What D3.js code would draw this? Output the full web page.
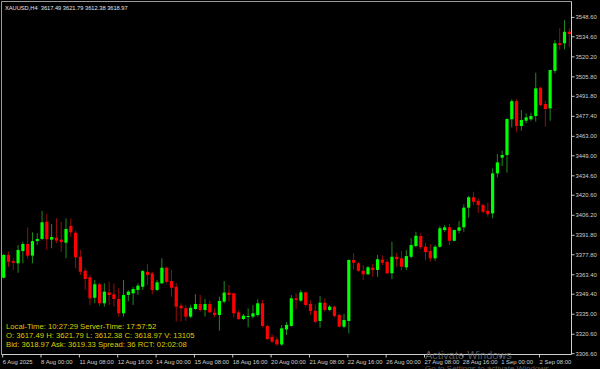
<!doctype html>
<html>
<head>
<meta charset="UTF-8">
<script src="https://cdn.jsdelivr.net/npm/d3@7"></script>
<style>
	body { margin: 0; background: #000; overflow: hidden; }
	svg { display: block; font-family: "Liberation Sans", Arial, sans-serif; }
</style>
</head>
<body>
	<svg id="chart" width="600" height="369"></svg>

	<script>
		// XAUUSD H4 candles, 6 Aug 16:00 .. 3 Sep
		const opens = [
			3360.9, 3377.3, 3372.9, 3371.3, 3380.1, 3385.2, 3376.8, 3387.3, 3388.8, 3401.2,
			3388.3, 3389.7, 3388.3, 3386.1, 3398.3, 3393.3, 3376.0, 3365.9, 3361.2, 3346.5,
			3356.2, 3342.5, 3350.4, 3349.0, 3345.6, 3335.3, 3348.5, 3349.7, 3352.1, 3354.4,
			3365.2, 3364.1, 3352.1, 3356.9, 3368.1, 3358.5, 3354.4, 3340.8, 3338.9, 3332.9,
			3338.4, 3342.0, 3337.7, 3342.0, 3335.8, 3334.1, 3343.7, 3350.2, 3349.7, 3336.0,
			3331.2, 3332.9, 3332.9, 3334.1, 3342.5, 3326.2, 3318.3, 3316.4, 3312.9, 3323.7,
			3326.2, 3346.1, 3344.4, 3350.4, 3342.0, 3337.2, 3329.8, 3342.9, 3337.7, 3340.1,
			3334.1, 3325.7, 3329.8, 3373.7, 3371.3, 3365.9, 3363.4, 3368.1, 3366.5, 3373.9,
			3372.4, 3364.1, 3376.0, 3374.9, 3368.4, 3376.0, 3383.7, 3390.9, 3383.2, 3380.1,
			3374.9, 3383.2, 3395.2, 3397.2, 3387.5, 3394.7, 3397.2, 3411.3, 3418.8, 3416.3,
			3413.2, 3409.1, 3407.2, 3436.0, 3447.3, 3449.2, 3474.9, 3488.0, 3470.1, 3473.9,
			3474.9, 3477.3, 3497.6, 3485.9, 3482.8, 3509.8, 3529.6, 3529.6, 3537.9
		];
		const highs = [
			3378.0, 3379.6, 3374.9, 3384.4, 3386.8, 3397.2, 3393.6, 3392.9, 3408.9, 3406.8,
			3399.6, 3403.6, 3401.2, 3403.6, 3403.6, 3394.7, 3380.9, 3367.7, 3362.9, 3359.3,
			3357.1, 3356.9, 3358.0, 3356.9, 3353.3, 3359.3, 3352.1, 3354.4, 3356.9, 3366.5,
			3370.8, 3365.2, 3359.3, 3374.9, 3368.8, 3366.5, 3356.9, 3342.5, 3341.3, 3341.3,
			3349.0, 3348.5, 3345.6, 3344.4, 3338.9, 3347.2, 3358.5, 3355.7, 3350.2, 3337.2,
			3334.8, 3338.9, 3341.3, 3345.4, 3344.9, 3326.9, 3320.4, 3318.3, 3326.9, 3329.0,
			3348.5, 3349.7, 3352.1, 3350.9, 3344.9, 3341.8, 3347.7, 3346.1, 3341.3, 3340.8,
			3335.3, 3334.8, 3374.0, 3378.5, 3372.4, 3370.0, 3369.3, 3370.8, 3377.3, 3376.9,
			3374.2, 3386.8, 3378.9, 3380.1, 3380.9, 3389.3, 3394.0, 3392.9, 3386.1, 3385.2,
			3384.4, 3398.1, 3398.8, 3399.6, 3395.7, 3401.7, 3413.7, 3419.7, 3422.8, 3418.0,
			3414.4, 3414.9, 3439.6, 3449.9, 3452.3, 3475.6, 3489.3, 3489.3, 3481.6, 3479.2,
			3479.6, 3508.4, 3498.3, 3488.3, 3510.4, 3532.0, 3540.4, 3546.3, 3540.4
		];
		const lows = [
			3360.3, 3368.8, 3366.5, 3364.5, 3371.3, 3374.9, 3371.3, 3384.5, 3388.1, 3380.9,
			3382.1, 3385.7, 3379.6, 3374.9, 3390.4, 3367.7, 3362.9, 3352.1, 3341.3, 3342.5,
			3340.6, 3340.1, 3341.3, 3340.1, 3332.9, 3332.9, 3344.0, 3341.3, 3348.5, 3352.1,
			3355.7, 3349.0, 3351.3, 3356.4, 3356.9, 3347.2, 3329.3, 3329.3, 3329.8, 3331.7,
			3337.7, 3336.5, 3332.9, 3335.8, 3332.4, 3322.8, 3342.5, 3343.7, 3332.4, 3330.5,
			3330.5, 3325.2, 3331.7, 3332.9, 3325.2, 3316.1, 3313.9, 3311.8, 3311.8, 3319.7,
			3325.7, 3338.4, 3343.7, 3340.1, 3334.1, 3328.1, 3324.9, 3336.5, 3337.0, 3332.4,
			3325.2, 3324.5, 3320.9, 3367.0, 3365.2, 3359.3, 3362.8, 3361.6, 3361.6, 3370.0,
			3363.6, 3359.8, 3368.8, 3366.5, 3366.5, 3374.9, 3382.8, 3381.4, 3373.7, 3372.4,
			3373.2, 3382.5, 3394.0, 3384.4, 3387.1, 3392.9, 3394.0, 3404.1, 3413.2, 3407.5,
			3407.3, 3404.8, 3403.6, 3433.2, 3441.3, 3436.5, 3469.1, 3465.9, 3466.7, 3472.0,
			3473.9, 3473.2, 3484.5, 3469.6, 3473.9, 3508.0, 3524.8, 3525.2, 3527.1
		];
		const closes = [
			3377.3, 3372.4, 3371.7, 3380.9, 3385.2, 3376.8, 3387.3, 3388.8, 3400.8, 3388.6,
			3390.2, 3387.6, 3386.6, 3396.0, 3393.6, 3375.6, 3365.2, 3360.0, 3346.1, 3356.2,
			3342.5, 3350.9, 3348.5, 3345.6, 3335.3, 3348.5, 3350.9, 3352.8, 3355.2, 3365.7,
			3362.9, 3352.1, 3357.6, 3368.1, 3358.0, 3353.7, 3340.1, 3338.9, 3332.9, 3339.3,
			3342.0, 3337.7, 3342.0, 3336.0, 3334.1, 3344.2, 3350.2, 3348.5, 3335.3, 3331.2,
			3333.6, 3333.4, 3335.3, 3342.5, 3326.2, 3316.8, 3314.9, 3313.0, 3324.5, 3326.9,
			3346.1, 3344.9, 3350.4, 3341.3, 3337.0, 3329.3, 3342.9, 3337.7, 3340.1, 3333.4,
			3325.7, 3330.5, 3373.7, 3371.7, 3365.9, 3363.4, 3368.4, 3366.5, 3374.2, 3371.7,
			3364.1, 3376.0, 3374.2, 3368.8, 3376.5, 3384.4, 3391.1, 3382.8, 3379.4, 3374.9,
			3383.2, 3396.5, 3397.2, 3387.5, 3395.2, 3397.2, 3411.3, 3418.8, 3415.6, 3413.2,
			3408.4, 3406.8, 3436.0, 3443.9, 3449.2, 3475.1, 3488.0, 3470.1, 3474.4, 3476.3,
			3477.3, 3497.2, 3485.2, 3482.3, 3510.4, 3529.6, 3528.4, 3537.9, 3536.3
		];

		// one time label every 8 bars
		const xTickLabels = [
			"6 Aug 2025", "8 Aug 00:00", "11 Aug 08:00", "12 Aug 16:00", "14 Aug 00:00",
			"15 Aug 08:00", "18 Aug 16:00", "20 Aug 00:00", "21 Aug 08:00", "22 Aug 16:00",
			"26 Aug 00:00", "27 Aug 08:00", "28 Aug 16:00", "1 Sep 00:00", "2 Sep 08:00"
		];
		const yTickValues = [
			3548.60, 3534.60, 3520.20, 3505.80, 3491.80, 3477.40, 3463.00, 3449.00, 3434.60,
			3420.60, 3406.20, 3391.80, 3377.80, 3363.40, 3349.40, 3335.00, 3320.60, 3306.60
		];
		const headerText = "XAUUSD,H4  3617.49 3621.79 3612.38 3618.97";
		const infoLines = [
			"Local-Time: 10:27:29 Server-Time: 17:57:52",
			"O: 3617.49 H: 3621.79 L: 3612.38 C: 3618.97 V: 13105",
			"Bid: 3618.97 Ask: 3619.33 Spread: 36 RCT: 02:02:08"
		];

		(function(){

			let svg = d3.select("#chart");
			let plot = {left: 1.5, top: 1.5, right: 571.5, bottom: 354.5};
			let barsPerLabel = 8;

			let candles = opens.map(function(o, i){
				return {i: i, o: o, h: highs[i], l: lows[i], c: closes[i]};
			});

			let xSca = d3.scaleBand()
						 .domain(d3.range(candles.length))
						 .range([1.3, 571.7]);

			let ySca = d3.scaleLinear()
						 .domain([3306.6, 3548.6])
						 .range([353.2, 16.9]);

			let cx = function(i){ return xSca(i) + xSca.bandwidth() / 2; };

			svg.append("rect")
				.attr("width", 600)
				.attr("height", 369)
				.attr("fill", "#000");

			// frame
			svg.append("path")
				.attr("d", "M" + plot.right + "," + plot.top + "H" + plot.left + "V" + plot.bottom)
				.attr("fill", "none")
				.attr("stroke", "#9a9a9a");
			svg.append("path")
				.attr("d", "M" + plot.right + "," + plot.top + "V" + plot.bottom + "H" + plot.left)
				.attr("fill", "none")
				.attr("stroke", "#d0d0d0");

			// wicks
			svg.append("g").selectAll("line")
				.data(candles)
				.enter().append("line")
				.attr("x1", function(d){ return cx(d.i); })
				.attr("x2", function(d){ return cx(d.i); })
				.attr("y1", function(d){ return ySca(d.h); })
				.attr("y2", function(d){ return ySca(d.l); })
				.attr("stroke", function(d){ return d.c >= d.o ? "#1f8a1f" : "#9a0c0c"; })
				.attr("stroke-width", 1);

			// bodies
			svg.append("g").selectAll("rect")
				.data(candles)
				.enter().append("rect")
				.attr("x", function(d){ return cx(d.i) - 1.6; })
				.attr("width", 3.2)
				.attr("y", function(d){ return ySca(Math.max(d.o, d.c)); })
				.attr("height", function(d){ return Math.max(1, Math.abs(ySca(d.o) - ySca(d.c))); })
				.attr("fill", function(d){ return d.c >= d.o ? "#00ff00" : "#ff0000"; });

			// price axis
			let yAxis = d3.axisRight(ySca)
						  .tickValues(yTickValues)
						  .tickSize(3)
						  .tickPadding(1)
						  .tickFormat(d3.format(".2f"));
			let yG = svg.append("g")
				.attr("transform", "translate(" + plot.right + ",0)")
				.call(yAxis);
			yG.select(".domain").remove();
			yG.selectAll("line").attr("stroke", "#c8c8c8");
			yG.selectAll("text")
				.attr("fill", "#cfcfcf")
				.style("font-size", "5.9px")
				.style("font-family", "Liberation Sans, Arial, sans-serif");

			// time axis
			let xAxis = d3.axisBottom(xSca)
						  .tickValues(xTickLabels.map(function(t, k){ return k * barsPerLabel; }))
						  .tickSize(3)
						  .tickPadding(2)
						  .tickFormat(function(d){ return xTickLabels[d / barsPerLabel]; });
			let xG = svg.append("g")
				.attr("transform", "translate(-1," + plot.bottom + ")")
				.call(xAxis);
			xG.select(".domain").remove();
			xG.selectAll("line").attr("stroke", "#c8c8c8");
			xG.selectAll("text")
				.attr("fill", "#cfcfcf")
				.attr("text-anchor", "start")
				.style("font-size", "5.9px")
				.style("font-family", "Liberation Sans, Arial, sans-serif");

			// symbol header
			svg.append("text")
				.attr("x", 5)
				.attr("y", 9.5)
				.attr("fill", "#e6e6e6")
				.style("font-size", "5.7px")
				.style("white-space", "pre")
				.text(headerText);

			// info panel
			svg.append("g").selectAll("text")
				.data(infoLines)
				.enter().append("text")
				.attr("x", 6)
				.attr("y", function(d, i){ return 328.6 + i * 9.1; })
				.attr("fill", "#dccd00")
				.style("font-size", "7.7px")
				.text(function(d){ return d; });

			// windows watermark
			svg.append("text")
				.attr("x", 425)
				.attr("y", 359)
				.attr("fill", "#7a7a7a")
				.attr("fill-opacity", 0.75)
				.style("font-size", "11px")
				.text("Activate Windows");
			svg.append("text")
				.attr("x", 425)
				.attr("y", 370.5)
				.attr("fill", "#7a7a7a")
				.attr("fill-opacity", 0.75)
				.style("font-size", "8px")
				.text("Go to Settings to activate Windows.");

		})();
	</script>
</body>
</html>
